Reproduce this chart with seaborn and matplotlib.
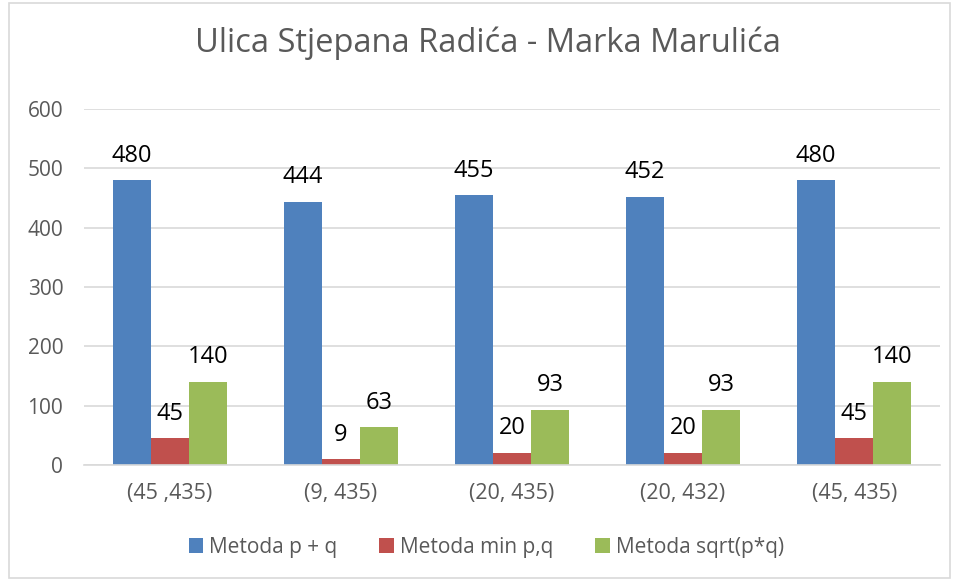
import pandas as pd
import matplotlib.pyplot as plt
import seaborn as sns
from matplotlib.patches import Rectangle

# Data
categories = ['(45 ,435)', '(9, 435)', '(20, 435)', '(20, 432)', '(45, 435)']
series = ['Metoda p + q', 'Metoda min p,q', 'Metoda sqrt(p*q)']
p_plus_q = [480, 444, 455, 452, 480]
min_pq = [45, 9, 20, 20, 45]
sqrt_pq = [140, 63, 93, 93, 140]
colors = ['#4F81BD', '#C0504D', '#9BBB59']

df = pd.DataFrame({
    'Kategorija': categories * 3,
    'Metoda': [series[0]] * 5 + [series[1]] * 5 + [series[2]] * 5,
    'Vrijednost': p_plus_q + min_pq + sqrt_pq,
})

sns.set_style('white')
plt.rcParams['font.family'] = ['Open Sans', 'DejaVu Sans']

fig, ax = plt.subplots(figsize=(9.56, 5.81), dpi=100)
fig.subplots_adjust(left=0.088, right=0.983, top=0.812, bottom=0.2)

sns.barplot(data=df, x='Kategorija', y='Vrijednost', hue='Metoda',
            palette=colors, width=0.667, saturation=1, linewidth=0,
            ax=ax, legend=True)

# Data labels
for cont in ax.containers:
    ax.bar_label(cont, padding=9, fontsize=17, color='black')

ax.set_ylim(0, 600)
ax.set_yticks(range(0, 601, 100))
ax.yaxis.grid(True, color='#D9D9D9', linewidth=1.2)
ax.set_axisbelow(True)
for s in ['left', 'right', 'top']:
    ax.spines[s].set_visible(False)
ax.spines['bottom'].set_color('#D9D9D9')
ax.spines['bottom'].set_linewidth(1.2)
ax.tick_params(axis='y', length=0, labelsize=15, labelcolor='#595959', pad=15)
ax.tick_params(axis='x', length=0, labelsize=15.5, labelcolor='#595959', pad=13)
ax.set_xlabel('')
ax.set_ylabel('')
ax.set_xlim(-0.5, 4.5)

fig.suptitle('Ulica Stjepana Radića - Marka Marulića', fontsize=23.5,
             color='#595959', x=0.51, y=0.955)

ax.legend(loc='upper center', bbox_to_anchor=(0.47, -0.15), ncol=3,
          frameon=False, fontsize=15, handlelength=0.7, handleheight=0.7,
          columnspacing=2.0, handletextpad=0.3, labelcolor='#595959')

# Chart border
fig.patches.append(Rectangle((0.009, 0.005), 0.985, 0.99, transform=fig.transFigure,
                             fill=False, edgecolor='#D9D9D9', linewidth=1.2))

plt.savefig('out.png', dpi=100)
